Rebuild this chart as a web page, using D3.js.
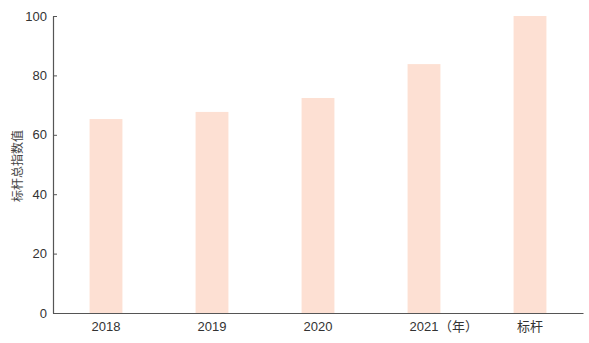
<!DOCTYPE html>
<html lang="zh">
<head>
<meta charset="utf-8">
<title>标杆总指数值</title>
<script src="https://cdn.jsdelivr.net/npm/d3@7"></script>
<style>
  body { margin: 0; background: #fff; }
  text { font-family: "Liberation Sans", Arial, "Noto Sans CJK SC", sans-serif; }
</style>
</head>
<body>
<script>
// data
var categories = ["2018", "2019", "2020", "2021", "标杆"];
var values = [65.3, 67.7, 72.4, 83.8, 100];
var yTicks = [0, 20, 40, 60, 80, 100];

var w = 589, h = 343;
var margin = {left: 53, right: 6, top: 16, bottom: 30};

var svg = d3.select("body").append("svg")
    .attr("width", w)
    .attr("height", h);

var xScale = d3.scaleBand()
    .domain(categories)
    .range([margin.left, w - margin.right])
    .paddingInner(0.69)
    .paddingOuter(0.345);

var yScale = d3.scaleLinear()
    .domain([0, 100])
    .range([h - margin.bottom, margin.top]);

// bars
svg.selectAll("rect.bar")
    .data(values)
    .enter()
    .append("rect")
    .attr("class", "bar")
    .attr("x", function(d, i) { return xScale(categories[i]); })
    .attr("y", function(d) { return yScale(d); })
    .attr("width", xScale.bandwidth())
    .attr("height", function(d) { return yScale(0) - yScale(d); })
    .attr("fill", "#fde0d3");

// y axis, ticks pointing inward
var yAxis = svg.append("g")
    .attr("transform", "translate(" + margin.left + ",0)")
    .call(d3.axisRight(yScale).tickValues(yTicks).tickSize(4).tickSizeOuter(0));
yAxis.select(".domain").attr("stroke", "#555").attr("stroke-width", 1.2);
yAxis.selectAll(".tick line").attr("stroke", "#555");
yAxis.selectAll(".tick text")
    .attr("x", -6)
    .attr("text-anchor", "end")
    .attr("fill", "#333")
    .attr("font-size", 13);

// x axis, no ticks
var xAxis = svg.append("g")
    .attr("transform", "translate(0," + yScale(0) + ")")
    .call(d3.axisBottom(xScale).tickSize(0).tickSizeOuter(0));
xAxis.select(".domain").attr("stroke", "#555").attr("stroke-width", 1.2);
xAxis.selectAll(".tick text")
    .attr("y", 9)
    .attr("fill", "#333")
    .attr("font-size", 13);

// "（年）" after 2021
xAxis.selectAll(".tick")
    .filter(function(d) { return d === "2021"; })
    .append("text")
    .attr("x", 15)
    .attr("y", 9)
    .attr("dy", "0.71em")
    .attr("text-anchor", "start")
    .attr("fill", "#333")
    .attr("font-size", 13)
    .text("（年）");

// y label
svg.append("text")
    .attr("transform", "translate(22,166) rotate(-90)")
    .attr("text-anchor", "middle")
    .attr("fill", "#444")
    .attr("font-size", 12)
    .text("标杆总指数值");
</script>
</body>
</html>
